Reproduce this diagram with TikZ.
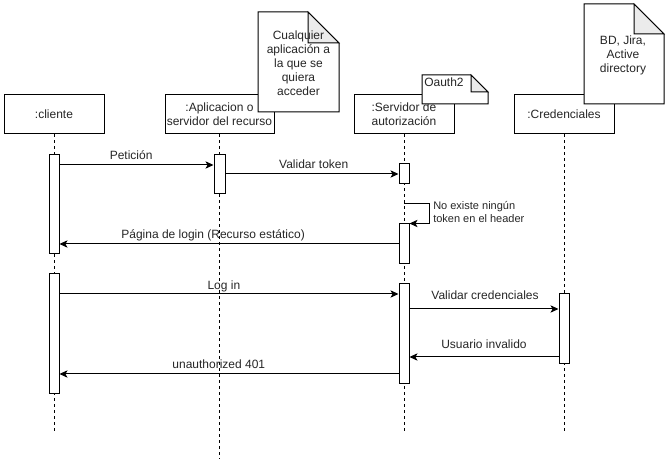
\documentclass[tikz,border=0pt]{standalone}
\usepackage{fontspec}
\setmainfont{Liberation Sans}
\usetikzlibrary{arrows.meta,fit}
\pgfdeclarelayer{background}
\pgfsetlayers{background,main}
\begin{document}
\begin{tikzpicture}[x=0.75pt,y=-0.75pt,
  every node/.style={font=\fontsize{9pt}{10.5pt}\selectfont, text=black!85},
  lifebox/.style={draw, fill=white, line width=0.75pt, minimum height=29.25pt, align=center, inner sep=1pt},
  lifeline/.style={draw, line width=0.75pt, dash pattern=on 2.25pt off 2.25pt},
  actbox/.style={draw, fill=white, line width=0.75pt, inner sep=0pt},
  msg/.style={draw, line width=0.75pt, -{Stealth[length=6pt,width=5.5pt,inset=1.5pt]}},
  msglabel/.style={font=\fontsize{9pt}{10.5pt}\selectfont, inner sep=0pt, anchor=base, yshift=3.75pt},
  notebody/.style={draw, fill=white, line width=0.75pt},
  notefold/.style={draw, fill=black!8, line width=0.75pt, line join=miter}
]
\useasboundingbox (0,0) rectangle (669,459);

% lifeline heads
\node[lifebox, minimum width=75pt] (cli) at (54,114.5) {:cliente};
\node[lifebox, minimum width=81.75pt] (app) at (219.5,114.5) {:Aplicacion o\\servidor del recurso};
\node[lifebox, minimum width=75pt] (srv) at (404,114.5) {:Servidor de\\autorización};
\node[lifebox, minimum width=75pt] (cred) at (564,114.5) {:Credenciales};

% lifeline ends
\coordinate (cliend) at (54,432);
\coordinate (append) at (219.5,459);
\coordinate (srvend) at (404,432);
\coordinate (credend) at (564,432);

\begin{pgfonlayer}{background}
\path[lifeline] (cli.south) -- (cliend);
\path[lifeline] (app.south) -- (append);
\path[lifeline] (srv.south) -- (srvend);
\path[lifeline] (cred.south) -- (credend);
\end{pgfonlayer}

% activations
\node[actbox, fit={(49,155)(59,254)}] (c1) {};
\node[actbox, fit={(49,274)(59,394)}] (c2) {};
\node[actbox, fit={(214,155)(225,194)}] (a1) {};
\node[actbox, fit={(399,164)(409,184)}] (s1) {};
\node[actbox, fit={(399,224)(409,264)}] (s2) {};
\node[actbox, fit={(399,284)(409,384)}] (s3) {};
\node[actbox, fit={(559,294)(569,364)}] (k1) {};

% notes
\draw[notebody] (258,12) -- (308,12) -- (339,43) -- (339,112) -- (258,112) -- cycle;
\draw[notefold] (308,12) -- (308,43) -- (339,43) -- cycle;
\node[align=center] (note1) at (298.5,63) {Cualquier\\aplicación a\\la que se\\quiera\\acceder};

\draw[notebody] (422,75) -- (471,75) -- (488,92) -- (488,104) -- (422,104) -- cycle;
\draw[notefold] (471,75) -- (471,92) -- (488,92) -- cycle;
\node[anchor=west, inner sep=0pt] (note2) at (424,82) {Oauth2};

\draw[notebody] (584,4) -- (634,4) -- (664,34) -- (664,104) -- (584,104) -- cycle;
\draw[notefold] (634,4) -- (634,34) -- (664,34) -- cycle;
\node[align=center] (note3) at (623,55) {BD, Jira,\\Active\\directory};

% messages
\draw[msg] (c1.east |- 0,165) -- (a1.west |- 0,165)
  node[msglabel, pos=0.465] {Petición};
\draw[msg] (a1.east |- 0,174) -- (s1.west |- 0,174)
  node[msglabel, pos=0.51] {Validar token};
\draw[msg] (srv.south |- 0,204) -- (429,204) |- (s2.north east);
\node[inner sep=0pt, anchor=west, align=left, font=\fontsize{8.25pt}{10.2pt}\selectfont] (selfl) at (433,212) {No existe ningún\\token en el header};
\draw[msg] (s2.west |- 0,244) -- (c1.east |- 0,244)
  node[msglabel, pos=0.547] {Página de login (Recurso estático)};
\draw[msg] (c2.east |- 0,294) -- (s3.west |- 0,294)
  node[msglabel, pos=0.485, yshift=-0.5pt] {Log in};
\draw[msg] (s3.east |- 0,309) -- (k1.west |- 0,309)
  node[msglabel, pos=0.507, yshift=3pt] {Validar credenciales};
\draw[msg] (k1.west |- 0,357) -- (s3.east |- 0,357)
  node[msglabel, pos=0.5, yshift=2.25pt] {Usuario invalido};
\draw[msg] (s3.west |- 0,374) -- (c2.east |- 0,374)
  node[msglabel, pos=0.53] {unauthorized 401};
\end{tikzpicture}
\end{document}
